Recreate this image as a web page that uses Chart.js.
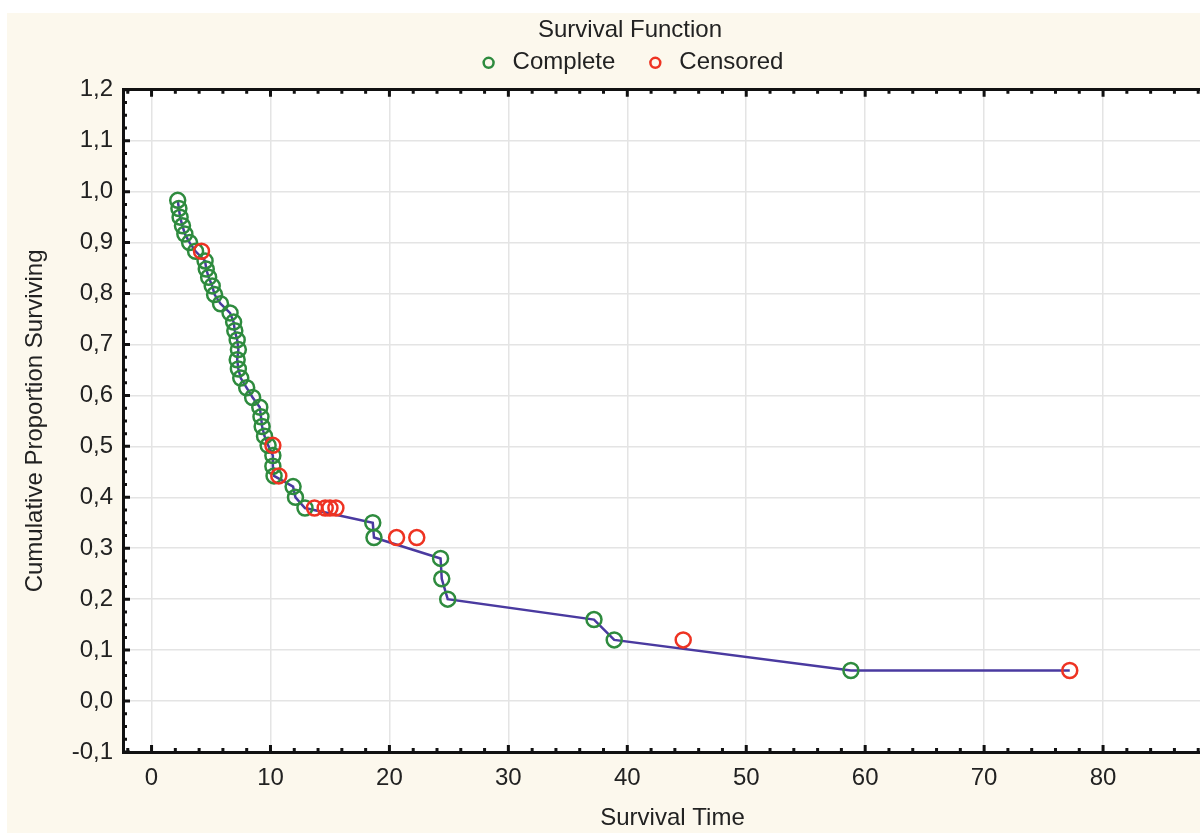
<!DOCTYPE html>
<html>
<head>
<meta charset="utf-8">
<script src="https://cdn.jsdelivr.net/npm/chart.js@4.4.1/dist/chart.umd.min.js"></script>
<style>
  html, body { margin: 0; padding: 0; background: #fff; overflow: hidden; width: 1200px; height: 834px; }
  #wrap { position: absolute; left: 7px; top: 13px; width: 1246px; height: 820px; background: #fcf8ed; }
</style>
</head>
<body>
<div id="wrap"><canvas id="chart" width="1246" height="820"></canvas></div>
<script>
// tempos e proporções
const compTime = [2.2, 2.3, 2.4, 2.6, 2.8, 3.2, 3.7, 4.5, 4.6, 4.8, 5.1, 5.3, 5.8, 6.6, 6.9, 7.0, 7.2, 7.3, 7.2, 7.3, 7.5,
  8.0, 8.5, 9.1, 9.2, 9.3, 9.5, 9.8, 10.2, 10.2, 10.3, 11.9, 12.1, 12.9, 18.6, 18.7, 24.3, 24.4, 24.9, 37.2, 38.9, 58.8];
const compSurv = [0.983, 0.967, 0.950, 0.933, 0.917, 0.900, 0.883, 0.864, 0.848, 0.832, 0.815, 0.798, 0.780, 0.762, 0.744,
  0.727, 0.709, 0.690, 0.670, 0.652, 0.634, 0.615, 0.596, 0.577, 0.558, 0.539, 0.520, 0.502, 0.482, 0.461, 0.442,
  0.421, 0.400, 0.379, 0.350, 0.321, 0.280, 0.240, 0.200, 0.160, 0.120, 0.060];
const censTime = [4.2, 10.2, 10.7, 13.7, 14.6, 15.0, 15.5, 20.6, 22.3, 44.7, 77.2];
const censSurv = [0.883, 0.502, 0.442, 0.379, 0.379, 0.379, 0.379, 0.321, 0.321, 0.120, 0.060];

const xTicks = [0, 10, 20, 30, 40, 50, 60, 70, 80];
const yTicks = [-0.1, 0, 0.1, 0.2, 0.3, 0.4, 0.5, 0.6, 0.7, 0.8, 0.9, 1.0, 1.1, 1.2];

const FONT = "'Liberation Sans', Arial, sans-serif";
const GREEN = '#2e8b3e';
const RED = '#ee3322';
const LINE = '#4a3aa0';

const pts = (xs, ys) => xs.map((t, i) => ({ x: t, y: ys[i] }));

// linha passa pelos eventos completos e termina no último censurado
const lineData = pts(compTime, compSurv).concat({ x: censTime[censTime.length - 1], y: censSurv[censSurv.length - 1] });

// fundo branco da área do gráfico + marcas de escala por dentro da moldura
const frame = {
  id: 'frame',
  beforeDraw(chart) {
    const { ctx, chartArea: a } = chart;
    ctx.save();
    ctx.fillStyle = '#fff';
    ctx.fillRect(a.left, a.top, a.right - a.left, a.bottom - a.top);
    ctx.restore();
  },
  afterDraw(chart) {
    const { ctx, chartArea: a, scales: { x, y } } = chart;
    ctx.save();
    ctx.strokeStyle = '#111';
    ctx.lineWidth = 3;
    ctx.beginPath();
    for (let v = -2; v <= x.max; v += 2) {
      const px = x.getPixelForValue(v);
      const len = v % 10 === 0 ? 7 : 4;
      ctx.moveTo(px, a.bottom);
      ctx.lineTo(px, a.bottom - len);
      ctx.moveTo(px, a.top);
      ctx.lineTo(px, a.top + len);
    }
    for (let k = -4; k <= 48; k++) {
      const py = y.getPixelForValue(k * 0.025);
      const len = k % 4 === 0 ? 7 : 4;
      ctx.moveTo(a.left, py);
      ctx.lineTo(a.left + len, py);
    }
    ctx.stroke();
    ctx.restore();
  }
};

new Chart(document.getElementById('chart'), {
  type: 'scatter',
  data: {
    datasets: [
      {
        label: 'Complete',
        data: pts(compTime, compSurv),
        pointStyle: 'circle',
        pointRadius: 7.5,
        pointBorderWidth: 2.5,
        borderColor: GREEN,
        backgroundColor: 'rgba(0,0,0,0)',
        order: 2
      },
      {
        label: 'Censored',
        data: pts(censTime, censSurv),
        pointStyle: 'circle',
        pointRadius: 7.5,
        pointBorderWidth: 2.5,
        borderColor: RED,
        backgroundColor: 'rgba(0,0,0,0)',
        order: 1
      },
      {
        label: 'curve',
        data: lineData,
        showLine: true,
        pointRadius: 0,
        borderColor: LINE,
        borderWidth: 2.5,
        order: 3
      }
    ]
  },
  options: {
    responsive: false,
    animation: false,
    layout: { padding: 0 },
    plugins: {
      tooltip: { enabled: false },
      title: {
        display: true,
        text: 'Survival Function',
        color: '#222',
        font: { family: FONT, size: 24, weight: 'normal' },
        padding: { top: 3, bottom: -22 }
      },
      legend: {
        display: true,
        position: 'top',
        labels: {
          usePointStyle: true,
          boxWidth: 24,
          boxHeight: 7,
          padding: 28,
          color: '#222',
          font: { family: FONT, size: 24 },
          filter: item => item.text !== 'curve',
          sort: (a, b) => a.datasetIndex - b.datasetIndex
        }
      }
    },
    scales: {
      x: {
        type: 'linear',
        position: 'bottom',
        min: -2.4,
        max: 90,
        afterBuildTicks: s => { s.ticks = xTicks.map(v => ({ value: v })); },
        afterFit: s => { s.height = 81; },
        ticks: {
          color: '#222',
          padding: 12,
          maxRotation: 0,
          font: { family: FONT, size: 24 }
        },
        grid: { color: '#e4e4e4', lineWidth: 1.5, drawTicks: false },
        border: { color: '#111', width: 3 },
        title: {
          display: true,
          text: 'Survival Time',
          color: '#222',
          font: { family: FONT, size: 24 },
          padding: { top: 0, bottom: 0 }
        }
      },
      xTop: {
        type: 'linear',
        position: 'top',
        min: -2.4,
        max: 90,
        afterFit: s => { s.height = 5; },
        ticks: { display: false },
        grid: { display: false, drawTicks: false },
        border: { color: '#111', width: 3 }
      },
      y: {
        type: 'linear',
        position: 'left',
        min: -0.1,
        max: 1.2,
        afterBuildTicks: s => { s.ticks = yTicks.map(v => ({ value: v })); },
        afterFit: s => { s.width = 116; },
        ticks: {
          color: '#222',
          padding: 10,
          font: { family: FONT, size: 24 },
          callback: v => v.toFixed(1).replace('.', ',')
        },
        grid: { color: '#e4e4e4', lineWidth: 1.5, drawTicks: false },
        border: { color: '#111', width: 3 },
        title: {
          display: true,
          text: 'Cumulative Proportion Surviving',
          color: '#222',
          font: { family: FONT, size: 24 },
          padding: { top: 14, bottom: 0 }
        }
      },
      yRight: {
        type: 'linear',
        position: 'right',
        min: 0,
        max: 1,
        afterFit: s => { s.width = 31; },
        ticks: { display: false },
        grid: { display: false, drawTicks: false },
        border: { display: false }
      }
    }
  },
  plugins: [frame]
});
</script>
</body>
</html>
